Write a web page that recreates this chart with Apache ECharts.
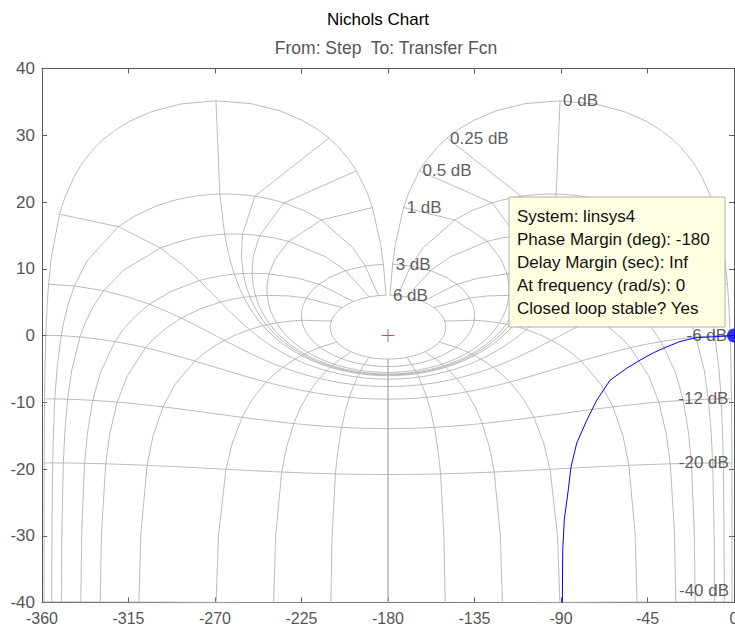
<!DOCTYPE html>
<html>
<head>
<meta charset="utf-8">
<title>Nichols Chart</title>
<script src="https://cdn.jsdelivr.net/npm/echarts@6/dist/echarts.min.js"></script>
<style>
    html, body { margin: 0; padding: 0; background: #fff; }
    #chart { width: 735px; height: 627px; }
</style>
</head>
<body>
<div id="chart"></div>
<script>
// open loop response (phase in deg, gain in dB)
var respPhase = [0, -10.8, -19.4, -28.1, -35.0, -42.0, -48.9, -55.8, -64.5, -71.4, -76.6, -81.8, -84.8, -86.2, -88.3, -89.1, -89.3];
var respGain  = [0, -0.2, -0.3, -0.9, -1.7, -2.6, -3.7, -4.9, -6.7, -9.7, -12.7, -16.1, -19.7, -23.1, -27.6, -32.2, -40.1];

// nichols grid levels (closed loop)
var clPhases = [1, 5, 10, 20, 30, 50, 90, 120, 150, 180];
var clGainsAlongPhase = [6, 3, 2, 1, .75, .5, .4, .3, .25, .2, .15, .1, .05, 0, -.05, -.1, -.15, -.2, -.25, -.3, -.4, -.5, -.75, -1, -2, -3, -4, -5, -6, -9, -12, -16, -20, -30, -40];
var clGains = [6, 3, 1, .5, .25, 0, -1, -3, -6, -12, -20, -40];
var clPhaseSteps = [1, 5, 10, 15, 20, 25, 30, 35, 40, 45, 50, 55, 60, 65, 70, 75, 80, 85, 90, 95, 100, 105, 110, 115, 120, 125, 130, 135, 140, 145, 150, 155, 160, 165, 170, 175, 180];
// -1 and -3 dB labels sit under the data tip in the picture
var labelledGains = [6, 3, 1, .5, .25, 0, -6, -12, -20, -40];

// axes
var phaseTicks = [-360, -315, -270, -225, -180, -135, -90, -45, 0];
var gainTicks = [-40, -30, -20, -10, 0, 10, 20, 30, 40];

var tipLines = ['System: linsys4', 'Phase Margin (deg): -180', 'Delay Margin (sec): Inf', 'At frequency (rad/s): 0', 'Closed loop stable? Yes'];

var FONT = 'Arial, "Liberation Sans", Helvetica, sans-serif';
var gridColor = '#aaaaaa';

// closed loop point -> open loop [phase 0..360, gain dB]
function openLoop(gdb, pdeg) {
    var g = Math.pow(10, gdb / 20), t = pdeg * Math.PI / 180;
    var zr = g * Math.cos(t), zi = g * Math.sin(t);
    var dr = 1 - zr, di = -zi, d2 = dr * dr + di * di;
    var hr = (zr * dr + zi * di) / d2, hi = (zi * dr - zr * di) / d2;
    var ph = (Math.atan2(hi, hr) * 180 / Math.PI + 360) % 360;
    return [ph, 20 * Math.log10(Math.sqrt(hr * hr + hi * hi))];
}

var series = [];
function gridLine(pts) {
    series.push({
        type: 'line', data: pts, symbol: 'none', silent: true, animation: false,
        lineStyle: { color: gridColor, width: 0.8 }, z: 1
    });
}

// phase lines
clPhases.forEach(function (p) {
    var pts = clGainsAlongPhase.map(function (g) { return openLoop(g, p); });
    gridLine(pts.map(function (q) { return [q[0] - 360, q[1]]; }));
    gridLine(pts.map(function (q) { return [-q[0], q[1]]; }));
});

// gain lines + labels
var labelData = [];
clGains.forEach(function (g) {
    var fwd = clPhaseSteps.map(function (p) { return openLoop(g, p); });
    var pts = fwd.map(function (q) { return [q[0] - 360, q[1]]; });
    var back = fwd.slice(0, -1).reverse().map(function (q) { return [-q[0], q[1]]; });
    gridLine(pts.concat(back));
    if (labelledGains.indexOf(g) < 0) return;
    labelData.push({
        value: [-fwd[0][0], Math.max(fwd[0][1], -38.2)],
        name: g + ' dB',
        label: { position: g < 0 ? 'left' : 'right' }
    });
});

series.push({
    type: 'scatter', data: labelData, symbolSize: 0, silent: true, animation: false, z: 2,
    label: {
        show: true, distance: 3, formatter: '{b}',
        color: '#333', fontSize: 17, fontFamily: FONT
    }
});

series.push({
    type: 'line', name: 'linsys4', symbol: 'none', animation: false, z: 3,
    data: respPhase.map(function (p, i) { return [p, respGain[i]]; }),
    lineStyle: { color: '#0000ff', width: 1 }
});

// critical point
series.push({
    type: 'scatter', data: [[-180, 0]], animation: false, z: 3,
    symbol: 'path://M6.5,0h1v14h-1zM0,6.5h14v1h-14z', symbolSize: 13,
    itemStyle: { color: '#963030' }
});

// data tip marker
series.push({
    type: 'scatter', data: [[respPhase[0], respGain[0]]], animation: false, z: 5, clip: false,
    symbolSize: 14, itemStyle: { color: '#0000ff' }
});

function axisBase(type, min, max, step, pos, labels) {
    return {
        type: 'value', position: pos, min: min, max: max, interval: step,
        axisLine: { show: true, onZero: false, lineStyle: { color: '#5a5a5a', width: 1 } },
        axisTick: { show: true, inside: true, length: 5, lineStyle: { color: '#5a5a5a' } },
        axisLabel: {
            show: labels, color: '#555', fontSize: type === 'x' ? 16 : 17, lineHeight: 16,
            fontFamily: FONT, margin: type === 'x' ? 7.5 : 7,
            showMinLabel: true, showMaxLabel: true
        },
        splitLine: { show: false }
    };
}

var chart = echarts.init(document.getElementById('chart'), null, { renderer: 'svg' });
chart.setOption({
    backgroundColor: '#fff',
    animation: false,
    title: [
        { text: 'Nichols Chart', left: 378, top: 11, textAlign: 'center', padding: 0,
          textStyle: { color: '#000', fontWeight: 'normal', fontSize: 17, fontFamily: FONT } },
        { text: 'From: Step  To: Transfer Fcn', left: 386, top: 39, textAlign: 'center', padding: 0,
          textStyle: { color: '#555', fontWeight: 'normal', fontSize: 17.5, fontFamily: FONT } }
    ],
    grid: { left: 42, right: 1, top: 68.5, bottom: 24.5, outerBoundsMode: 'none', containLabel: false },
    xAxis: [
        axisBase('x', phaseTicks[0], phaseTicks[phaseTicks.length - 1], phaseTicks[1] - phaseTicks[0], 'bottom', true),
        axisBase('x', phaseTicks[0], phaseTicks[phaseTicks.length - 1], phaseTicks[1] - phaseTicks[0], 'top', false)
    ],
    yAxis: [
        axisBase('y', gainTicks[0], gainTicks[gainTicks.length - 1], gainTicks[1] - gainTicks[0], 'left', true),
        axisBase('y', gainTicks[0], gainTicks[gainTicks.length - 1], gainTicks[1] - gainTicks[0], 'right', false)
    ],
    series: series,
    graphic: [
        { type: 'rect', z: 100, zlevel: 0, shape: { x: 509, y: 197, width: 216, height: 130 },
          style: { fill: '#ffffe1', stroke: '#b0b0b0', lineWidth: 1 } },
        { type: 'text', z: 101, x: 517, y: 205,
          style: { text: tipLines.join('\n'), fill: '#111', font: '17px ' + FONT, lineHeight: 22.9 } }
    ]
});
</script>
</body>
</html>
